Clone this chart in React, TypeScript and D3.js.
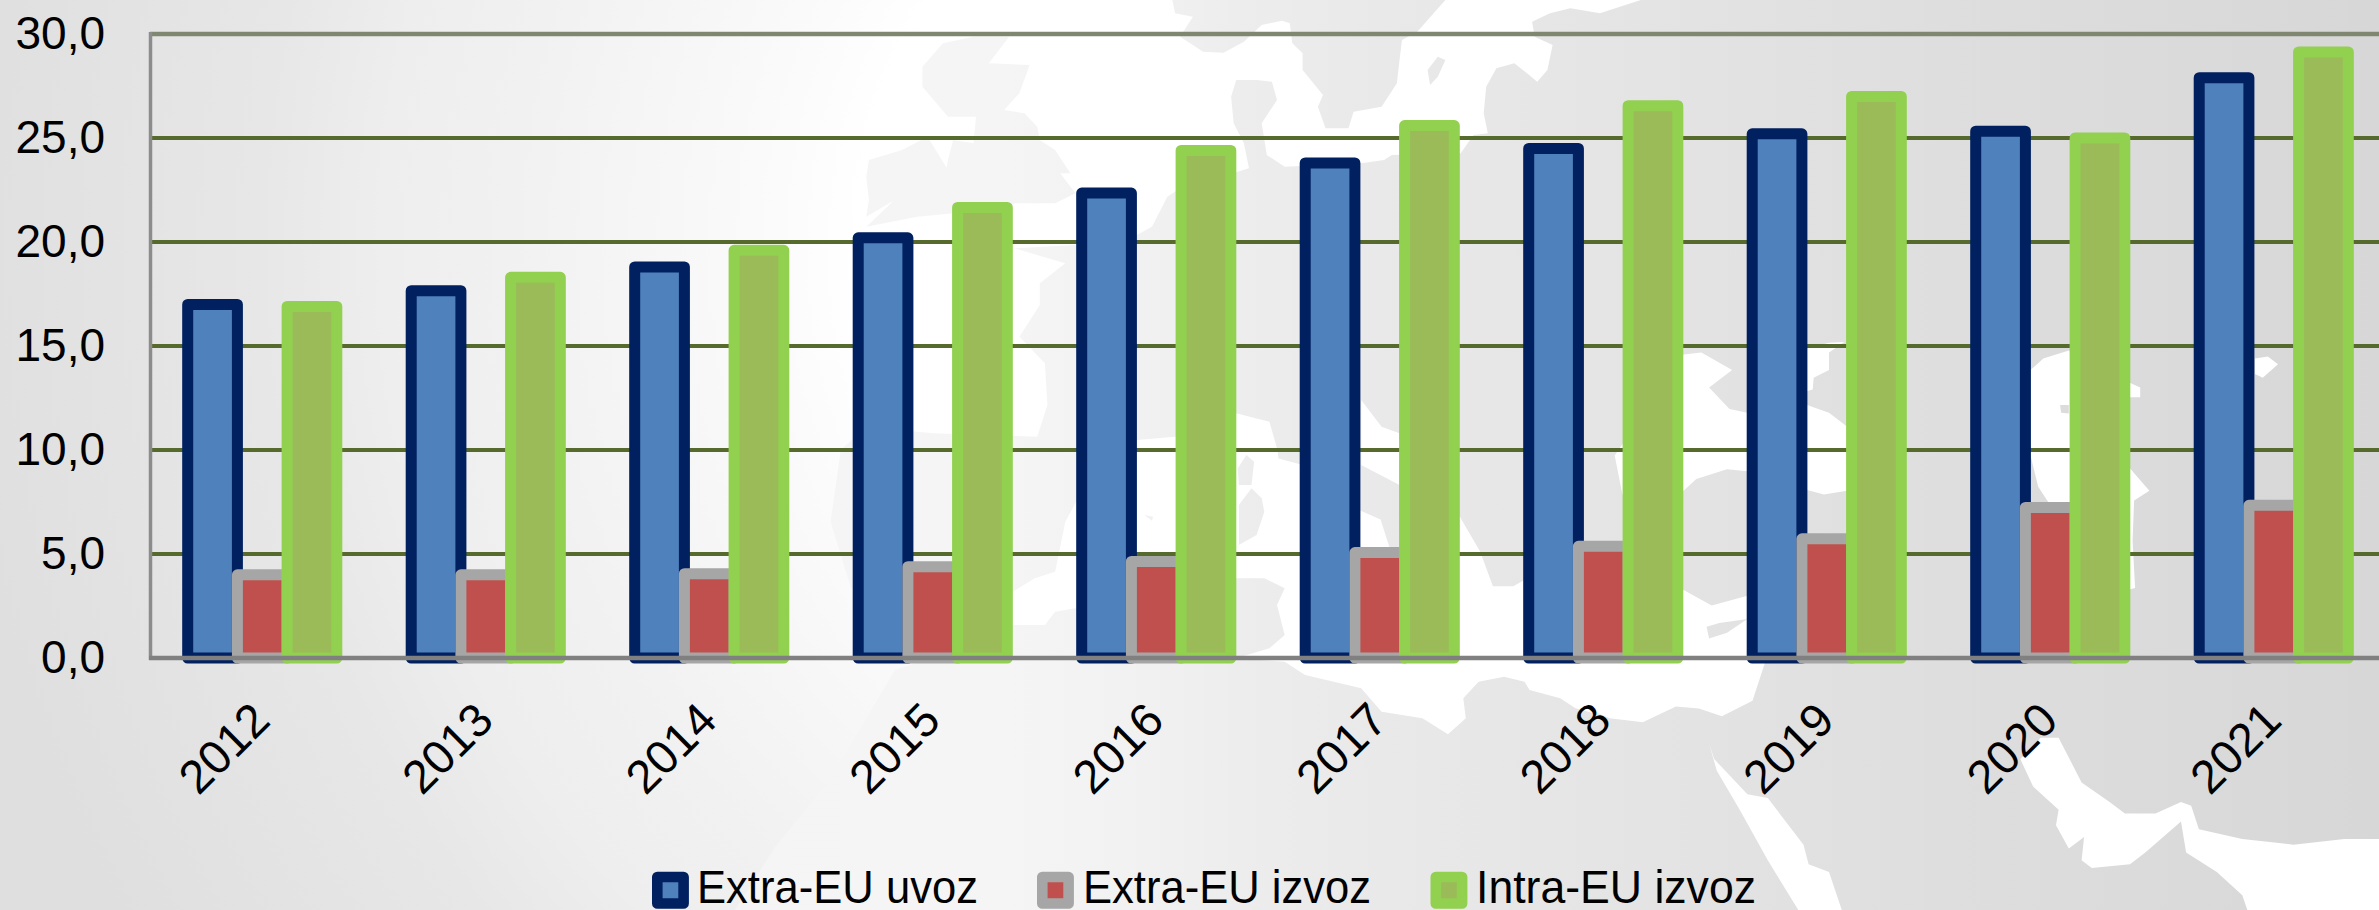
import React from "react";
import * as d3 from "d3";

const years = ["2012","2013","2014","2015","2016","2017","2018","2019","2020","2021"];
const extraUvoz = [17.0,17.66,18.8,20.2,22.35,23.8,24.5,25.2,25.33,27.9];
const extraIzvoz = [4.0,4.0,4.05,4.39,4.64,5.07,5.37,5.73,7.24,7.34];
const intraIzvoz = [16.9,18.3,19.6,21.66,24.4,25.6,26.55,27.0,25.0,29.14];
const yTicks = [0,5,10,15,20,25,30];
const seriesNames = ["Extra-EU uvoz","Extra-EU izvoz","Intra-EU izvoz"];
const seriesValues = [extraUvoz, extraIzvoz, intraIzvoz];
const fills = ["#4f81bd","#c0504d","#9bbb59"];
const strokes = ["#002060","#a6a6a6","#92d050"];
const legendX = [652,1037,1430.5];
const legendTextX = [697,1083,1476];
const legendTextW = [281,288,280];

const W = 2379, H = 910;
const FONT = "'Liberation Sans', Arial, sans-serif";

type P = [number, number];
const z5 = (x: number, y: number): P => [1100 + x / 1.96, y / 1.723];
const z6 = (x: number, y: number): P => [800 + x / 1.96, y / 3];
const z7 = (x: number, y: number): P => [800 + x / 1.96, 455 + y / 3];
const z8 = (x: number, y: number): P => [1579 + x / 1.96, 300 + y / 2.57];

// Decorative background map: the ocean takes a radial gradient, inner seas are white, land shows the land gradient
const atlantic: P[] = [
  [0,0], z5(1060,0), z6(1568,40), z6(1510,25), z6(1470,40), z6(1435,65), z6(1440,110), z6(1475,135), z6(1465,210), z6(1445,245),
  z6(1425,220), z6(1400,190), z6(1365,205), z6(1345,260), z6(1340,340), z6(1348,400), z6(1320,405), z6(1295,460), z6(1160,465),
  z6(1145,480), z6(1100,490), z6(950,500), z6(915,465), z6(905,370), z6(935,300), z6(925,245), z6(895,240), z6(855,240), z6(845,290),
  z6(850,370), z6(870,430), z6(880,505), z6(740,570), z6(720,590), z6(690,680), z6(660,705), z6(540,735), z6(420,745),
  z6(520,790), z6(470,850), z6(470,915), z6(430,1010), z6(480,1090), z6(485,1215), z6(465,1310), z6(260,1300), z6(130,1280),
  z6(80,1350), z7(60,200), z7(100,400), [930,600], [985,640], [895,670], [830,780], [775,847], [735,910], [0,910],
];
const seas: P[][] = [
  [ // Mediterranean
    z7(417,410), z7(460,370), z7(500,350), z7(520,200), z7(545,130), z6(660,1320), z6(735,1310), z6(800,1300), z6(855,1240),
    z6(920,1265), z6(935,1345), z5(350,790), z5(392,800), z5(511,880), z5(550,895), z5(570,950), z5(585,945), z5(705,890), z5(745,950),
    z5(770,1010), z5(810,1010), z5(830,1000), z5(948,950), z5(1025,960), z8(205,745), z8(260,785), z8(330,760), z8(365,930), z8(340,1030),
    z8(280,1070), z8(235,1050), z8(190,1045), z8(125,1085), z8(60,1075), z8(0,1040), z7(1568,780), z7(1520,760), z7(1490,730), z7(1430,705),
    z7(1420,680), z7(1380,665), z7(1330,680), z7(1300,730), z7(1305,790), z7(1270,838), z7(1220,790), z7(1140,770), z7(1100,700), z7(990,660),
    z7(950,620), z7(855,610), z7(920,580), z7(950,540), z7(935,450), z7(950,400), z7(910,370), z7(855,370), z7(735,620), z7(660,620),
    z7(540,460), z7(500,470), z7(480,510), z7(417,510),
  ],
  [z6(1100,1200), z6(1140,1280), z6(1175,1300), z7(1175,90), z7(1100,30)], // Adriatic
  [ // Black Sea
    z8(205,140), z8(240,135), z8(300,180), z8(255,225), z8(295,280), z8(330,290), z8(447,270), z8(490,290), z8(525,325), z8(600,400),
    z8(525,490), z8(480,500), z8(447,488), z8(330,440), z8(290,435), z8(230,460), z8(205,490), z8(85,500), z8(70,400),
  ],
  [z8(380,130), z8(447,125), z8(490,110), z8(520,108), z8(490,135), z8(490,180), z8(460,200), z8(458,230), z8(380,260)], // Azov
  [ // Caspian
    z8(885,180), z8(910,150), z8(960,130), z8(1000,150), z8(1075,210), z8(1100,225), z8(1100,250), z8(1078,250), z8(1078,430), z8(1118,490),
    z8(1088,515), z8(1085,620), z8(1090,740), z8(1075,745), z8(1000,640), z8(960,520), z8(920,520), z8(900,480), z8(885,400),
  ],
  [z8(1325,150), z8(1350,145), z8(1370,165), z8(1340,200), z8(1325,190)], // Aral
  [ // Red Sea
    z8(255,1140), z8(265,1180), z8(330,1270), z8(370,1280), z8(440,1400), z8(450,1450), z8(490,1470), z8(515,1568), z8(430,1568), z8(370,1440),
    z8(315,1310), z8(270,1210),
  ],
  [ // Persian Gulf and Arabian Sea
    z8(905,1125), z8(940,1125), z8(985,1240), z8(1040,1290), z8(1070,1320), z8(1130,1320), z8(1180,1290), z8(1200,1300), z8(1215,1360),
    z8(1300,1385), z8(1400,1400), z8(1500,1385), z8(1568,1385), z8(1568,1568), z8(1310,1568), z8(1300,1530), z8(1250,1470), z8(1190,1420),
    z8(1180,1340), z8(1110,1420), z8(1080,1450), z8(1005,1460), z8(985,1440), z8(990,1380), z8(960,1410), z8(935,1350), z8(940,1310),
    z8(890,1250), z8(865,1180),
  ],
];
const lands: P[][] = [
  [ // Scandinavia
    z6(730,0), z6(735,40), z6(770,50), z6(745,110), z6(790,155), z6(830,158), z6(870,125), z6(905,75), z6(945,62), z6(960,70), z6(965,130),
    z6(985,160), z6(985,210), z6(1025,285), z6(1015,320), z6(1030,385), z6(1075,385), z6(1085,335), z6(1140,320), z6(1170,250), z6(1175,180),
    z6(1180,120), z6(1210,95), z6(1265,0),
  ],
  [z6(1230,210), z6(1250,170), z6(1265,180), z6(1250,230), z6(1235,255)], // Gotland
  [ // Great Britain
    z6(240,200), z6(280,130), z6(340,110), z6(410,110), z6(370,190), z6(450,195), z6(430,280), z6(400,330), z6(440,340), z6(465,380), z6(470,420),
    z6(500,450), z6(530,520), z6(510,520), z6(540,580), z6(500,610), z6(420,610), z6(400,640), z6(300,640), z6(230,650), z6(130,680), z6(185,600),
    z6(280,560), z6(290,480), z6(300,420), z6(340,430), z6(345,350), z6(290,350), z6(240,260),
  ],
  [z6(135,480), z6(200,450), z6(250,410), z6(290,510), z6(295,570), z6(180,605), z6(130,650), z6(135,600), z6(130,530)], // Ireland
  [z7(860,150), z7(885,100), z7(905,130), z7(910,170), z7(895,240), z7(860,270)], // Sardinia
  [z7(860,90), z7(858,40), z7(875,0), z7(890,20), z7(885,90)], // Corsica
  [z7(675,180), z7(692,185), z7(690,197)], // Balearic
  [z8(250,840), z8(275,830), z8(330,820), z8(290,855), z8(255,870)], // Cyprus
  [z8(943,270), z8(960,270), z8(960,292), z8(945,290)],
];
const toPath = (pts: P[]) => "M" + pts.map((p) => p[0].toFixed(1) + "," + p[1].toFixed(1)).join("L") + "Z";

export default function App() {
  const x = d3.scaleBand<string>().domain(years).range([150.5, 2385.5]);
  const inner = d3.scaleBand<string>().domain(seriesNames).range([0, 149.1]);
  const y = d3.scaleLinear().domain([0, 30]).range([658, 34]);
  const fmt = (v: number) => d3.format(".1f")(v).replace(".", ",");
  return (
    <svg width={W} height={H} viewBox={`0 0 ${W} ${H}`} style={{ position: "absolute", left: 0, top: 0, display: "block" }} fontFamily={FONT}>
      <defs>
        <linearGradient id="land" gradientUnits="userSpaceOnUse" x1="0" y1="0" x2={W} y2="0">
          <stop offset="0" stopColor="#f4f4f4" />
          <stop offset="0.42" stopColor="#f5f5f5" />
          <stop offset="0.47" stopColor="#f2f2f2" />
          <stop offset="0.52" stopColor="#ededed" />
          <stop offset="0.58" stopColor="#e9e9e9" />
          <stop offset="0.67" stopColor="#e5e5e5" />
          <stop offset="0.84" stopColor="#dddddd" />
          <stop offset="1" stopColor="#d7d7d7" />
        </linearGradient>
        <radialGradient id="ocean" gradientUnits="userSpaceOnUse" cx="1350" cy="250" r="1400">
          <stop offset="0.35" stopColor="#ffffff" />
          <stop offset="0.41" stopColor="#fbfbfb" />
          <stop offset="0.6" stopColor="#f1f1f1" />
          <stop offset="0.69" stopColor="#eeeeee" />
          <stop offset="0.78" stopColor="#e7e7e7" />
          <stop offset="1" stopColor="#dfdfdf" />
        </radialGradient>
      </defs>
      <rect width={W} height={H} fill="url(#land)" />
      <path d={toPath(atlantic)} fill="url(#ocean)" />
      {seas.map((s, i) => <path key={i} d={toPath(s)} fill="#ffffff" />)}
      {lands.map((s, i) => <path key={i} d={toPath(s)} fill="url(#land)" />)}

      {yTicks.filter((t) => t > 0).map((t) => (
        <line key={t} x1={150} x2={W} y1={y(t)} y2={y(t)} stroke={t === 30 ? "#7f8770" : "#566a2e"} strokeWidth={t === 30 ? 4.5 : 4} />
      ))}
      <line x1={150.5} x2={150.5} y1={32} y2={660} stroke="#8c8c8c" strokeWidth={3.5} />

      {seriesNames.map((name, si) =>
        years.map((yr, i) => {
          const v = seriesValues[si][i];
          return (
            <rect key={name + yr} x={(x(yr) as number) + (x.bandwidth() - 149.1) / 2 + (inner(name) as number)} y={y(v)} width={inner.bandwidth()} height={y(0) - y(v)}
              fill={fills[si]} stroke={strokes[si]} strokeWidth={11} strokeLinejoin="round" />
          );
        })
      )}
      <line x1={149} x2={W} y1={658} y2={658} stroke="#808080" strokeWidth={4.5} />

      {yTicks.map((t) => (
        <text key={t} x={105} y={y(t) + 14.5} textAnchor="end" fontSize={46} fill="#000">{fmt(t)}</text>
      ))}
      {years.map((yr) => {
        const cx = (x(yr) as number) + x.bandwidth() / 2 - 38.5;
        return (
          <text key={yr} transform={`translate(${cx},748) rotate(-45)`} textAnchor="middle" dy="0.35em" fontSize={47} fill="#000">{yr}</text>
        );
      })}
      {seriesNames.map((name, i) => (
        <g key={name}>
          <rect x={legendX[i] + 5.3} y={877} width={26.3} height={26.5} fill={fills[i]} stroke={strokes[i]} strokeWidth={10.6} strokeLinejoin="round" />
          <text x={legendTextX[i]} y={903} fontSize={46} textLength={legendTextW[i]} lengthAdjust="spacingAndGlyphs" fill="#000">{name}</text>
        </g>
      ))}
    </svg>
  );
}
